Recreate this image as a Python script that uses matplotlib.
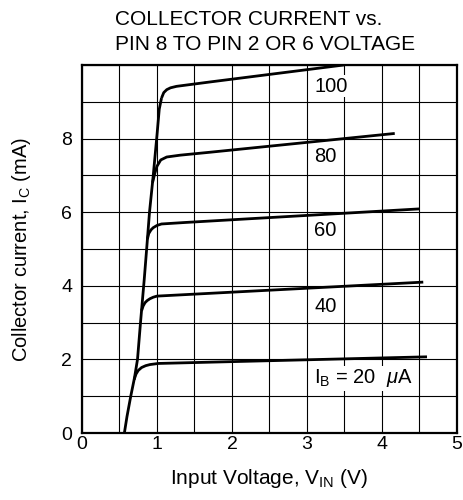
import matplotlib
matplotlib.use("Agg")
import matplotlib.pyplot as plt

plt.rcParams['font.family'] = ['Liberation Sans', 'DejaVu Sans']
plt.rcParams['mathtext.fontset'] = 'custom'
plt.rcParams['mathtext.rm'] = 'Liberation Sans'
plt.rcParams['mathtext.it'] = 'Liberation Sans:italic'
plt.rcParams['mathtext.bf'] = 'Liberation Sans:bold'

# Shared rising locus (V, mA)
locus_v = [0.565, 0.60, 0.65, 0.70, 0.74, 0.78, 0.83, 0.862, 0.90, 0.95, 1.0, 1.03, 1.06]
locus_i = [0.0, 0.45, 1.0, 1.5, 2.0, 3.0, 4.18, 5.0, 6.0, 7.0, 8.1, 8.8, 9.1]

ib100_v = [1.06, 1.09, 1.13, 1.18, 1.26, 1.71, 3.49]
ib100_i = [9.1, 9.25, 9.33, 9.38, 9.42, 9.54, 10.0]

ib80_v = [0.94, 0.97, 1.0, 1.05, 1.13, 1.31, 1.71, 4.17]
ib80_i = [6.8, 7.05, 7.25, 7.42, 7.5, 7.55, 7.63, 8.14]

ib60_v = [0.872, 0.89, 0.92, 0.95, 1.0, 1.06, 1.37, 4.5]
ib60_i = [5.27, 5.42, 5.52, 5.58, 5.64, 5.68, 5.72, 6.09]

ib40_v = [0.794, 0.815, 0.84, 0.87, 0.907, 0.95, 1.0, 4.55]
ib40_i = [3.32, 3.45, 3.54, 3.60, 3.65, 3.69, 3.72, 4.1]

ib20_v = [0.695, 0.72, 0.75, 0.795, 0.85, 0.907, 1.02, 4.6]
ib20_i = [1.45, 1.60, 1.70, 1.78, 1.83, 1.86, 1.89, 2.07]

curve_labels = ["100", "80", "60", "40", r"I$_{\mathrm{B}}$ = 20  $\mu$A"]
label_x = [3.1, 3.1, 3.1, 3.1, 3.1]
label_y = [9.42, 7.5, 5.5, 3.45, 1.49]

title_lines = ["COLLECTOR CURRENT vs.", "PIN 8 TO PIN 2 OR 6 VOLTAGE"]

x_ticks = [0, 1, 2, 3, 4, 5]
y_ticks = [0, 2, 4, 6, 8]

fig = plt.figure(figsize=(4.64, 5.0), dpi=100)
ax = fig.add_axes([82/464, 1 - 433/500, (457 - 82)/464, (433 - 65)/500])

ax.set_xlim(0, 5)
ax.set_ylim(0, 10)
ax.set_xticks(x_ticks)
ax.set_yticks(y_ticks)
ax.set_xticks([i * 0.5 for i in range(11)], minor=True)
ax.set_yticks(range(11), minor=True)
ax.grid(True, which='both', color='black', linewidth=0.8)
ax.set_axisbelow(True)
ax.tick_params(which='both', length=0, labelsize=14, colors='black')
ax.tick_params(axis='x', pad=2)
ax.tick_params(axis='y', pad=7)
for s in ax.spines.values():
    s.set_linewidth(1.6)

kw = dict(color='black', linewidth=2.0, solid_joinstyle='round', solid_capstyle='butt')
ax.plot(locus_v, locus_i, **kw)
for v, i in [(ib100_v, ib100_i), (ib80_v, ib80_i), (ib60_v, ib60_i),
             (ib40_v, ib40_i), (ib20_v, ib20_i)]:
    ax.plot(v, i, **kw)

for t, x, y in zip(curve_labels, label_x, label_y):
    ax.text(x, y, t, ha='left', va='center', fontsize=14.5,
            bbox=dict(facecolor='white', edgecolor='none', pad=1.0))

ax.set_xlabel(r"Input Voltage, V$_{\mathrm{IN}}$ (V)", fontsize=15, labelpad=10)
ax.set_ylabel(r"Collector current, I$_{\mathrm{C}}$ (mA)", fontsize=14.5, labelpad=20)
for k, line in enumerate(title_lines):
    fig.text(115/464, 1 - (25 + 25 * k)/500, line, ha='left', va='baseline', fontsize=15)

fig.savefig("out.png", dpi=100)
